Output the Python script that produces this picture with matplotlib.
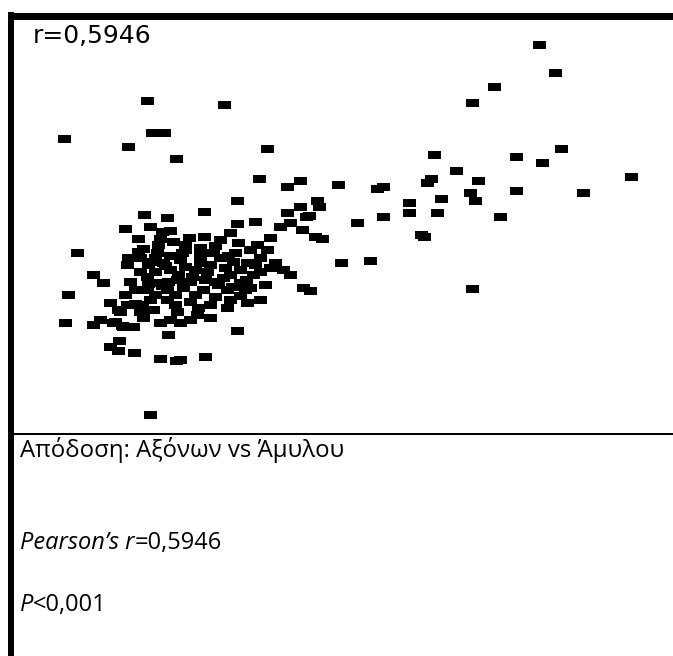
import numpy as np
import matplotlib
matplotlib.use("Agg")
import matplotlib.pyplot as plt
from matplotlib.path import Path

# scatter values (arbitrary units, y grows downward)
x_vals = [147, 224, 64, 152, 164, 128, 267, 176, 539, 555, 494, 472, 561, 434,
          516, 542, 456, 431, 427, 478, 631, 338, 377, 383, 470, 516, 583, 409,
          441, 475, 409, 437, 383, 500, 357, 421, 424, 341, 370, 472, 259, 287,
          300, 237, 317, 319, 300, 287, 309, 204, 144, 167, 255, 237, 280, 290,
          302, 306, 315, 322, 125, 150, 162, 170, 138, 160, 173, 143, 189, 204,
          220, 230, 238, 257, 270, 77, 138, 157, 182, 200, 213, 250, 267, 127,
          148, 163, 180, 200, 220, 233, 247, 275, 283, 290, 93, 103, 130, 147,
          160, 177, 190, 207, 230, 253, 260, 68, 147, 167, 183, 203, 227, 250,
          303, 310, 110, 127, 135, 150, 167, 190, 230, 247, 260, 153, 177, 197,
          227, 65, 93, 100, 113, 123, 133, 143, 160, 180, 190, 168, 237, 119,
          110, 118, 134, 160, 176, 205, 150,
          140, 155, 170, 185, 195, 210, 225, 240, 170, 155, 140, 135, 155, 175,
          195, 215, 240, 215, 240, 265, 175, 210, 245, 185, 215, 235, 260, 125,
          118, 140, 210, 128, 270, 223, 115, 122, 170, 120, 180,
          148, 162, 178, 192, 205, 218, 232, 246, 150, 165, 185, 200, 228, 168,
          198, 255, 142, 158]
y_vals = [101, 105, 139, 133, 133, 147, 149, 159, 45, 73, 87, 103, 149, 155,
          157, 163, 171, 179, 183, 181, 177, 185, 189, 187, 193, 191, 193, 203,
          199, 201, 213, 213, 217, 217, 223, 235, 237, 263, 261, 289, 179, 187,
          181, 201, 201, 207, 207, 213, 216, 212, 215, 218, 222, 224, 227, 223,
          230, 217, 237, 239, 229, 227, 232, 231, 239, 239, 242, 249, 238, 237,
          240, 233, 243, 245, 238, 253, 252, 253, 253, 248, 253, 250, 250, 265,
          265, 263, 260, 263, 258, 262, 263, 263, 270, 275, 275, 283, 282, 277,
          283, 280, 282, 272, 275, 275, 272, 295, 290, 290, 288, 290, 290, 288,
          288, 291, 303, 305, 304, 300, 300, 302, 300, 303, 300, 310, 312, 315,
          308, 323, 325, 320, 323, 327, 327, 318, 323, 323, 320, 335, 331, 341,
          347, 351, 353, 359, 361, 357, 415,
          258, 258, 256, 267, 270, 265, 268, 270, 270, 272, 272, 290, 295, 295,
          295, 297, 296, 282, 283, 285, 305, 305, 290, 245, 246, 253, 258, 295,
          310, 312, 318, 258, 268, 278, 322, 326, 320, 312, 360,
          284, 286, 275, 277, 280, 285, 287, 280, 262, 266, 250, 256, 256, 282,
          308, 265, 305, 245]

title_line = "Απόδοση: Αξόνων vs Άμυλου"
corner_label = "r=0,5946"
r_label = ("Pearson’s r", "=0,5946")
p_label = ("P", "<0,001")

W, H, DPI = 673, 656, 100
fig = plt.figure(figsize=(W / DPI, H / DPI), dpi=DPI)
fig.patch.set_facecolor("white")

# background axes in pixel units for frame lines and captions
bg = fig.add_axes([0, 0, 1, 1])
bg.set_xlim(0, W)
bg.set_ylim(H, 0)
bg.axis("off")

px = 72 / DPI
sep_y = 434
bg.plot([11, 11], [12, H], color="black", lw=6 * px, solid_capstyle="butt")
bg.plot([8, W], [15.5, 15.5], color="black", lw=7 * px, solid_capstyle="butt")
bg.plot([14, W], [sep_y, sep_y], color="black", lw=2 * px, solid_capstyle="butt")

# scatter panel
top, bottom, left = 19, 453, 14
ax = fig.add_axes([left / W, (H - bottom) / H, (W - left) / W, (bottom - top) / H])
ax.set_xlim(left, W)
ax.set_ylim(bottom, top)
ax.axis("off")

rect = Path([(-1, -0.615), (1, -0.615), (1, 0.615), (-1, 0.615), (-1, -0.615)],
            [Path.MOVETO, Path.LINETO, Path.LINETO, Path.LINETO, Path.CLOSEPOLY])
ax.scatter(x_vals, y_vals, marker=rect, s=(13 * px) ** 2, c="black", linewidths=0)

bg.text(33, 43, corner_label, fontsize=18, family="DejaVu Sans", va="baseline")

cap_font = ["Open Sans", "DejaVu Sans"]
bg.text(20, 457, title_line, fontsize=17.3, family=cap_font, va="baseline")

t1 = bg.text(20, 549, r_label[0], fontsize=17, family=cap_font, style="italic",
             va="baseline")
bg.annotate(r_label[1], xy=(1, 0), xycoords=t1, fontsize=17, family=cap_font,
            va="bottom")

t2 = bg.text(20, 611, p_label[0], fontsize=17, family=cap_font, style="italic",
             va="baseline")
bg.annotate(p_label[1], xy=(1, 0), xycoords=t2, fontsize=17, family=cap_font,
            va="bottom")

fig.savefig("out.png", dpi=DPI, facecolor="white")
